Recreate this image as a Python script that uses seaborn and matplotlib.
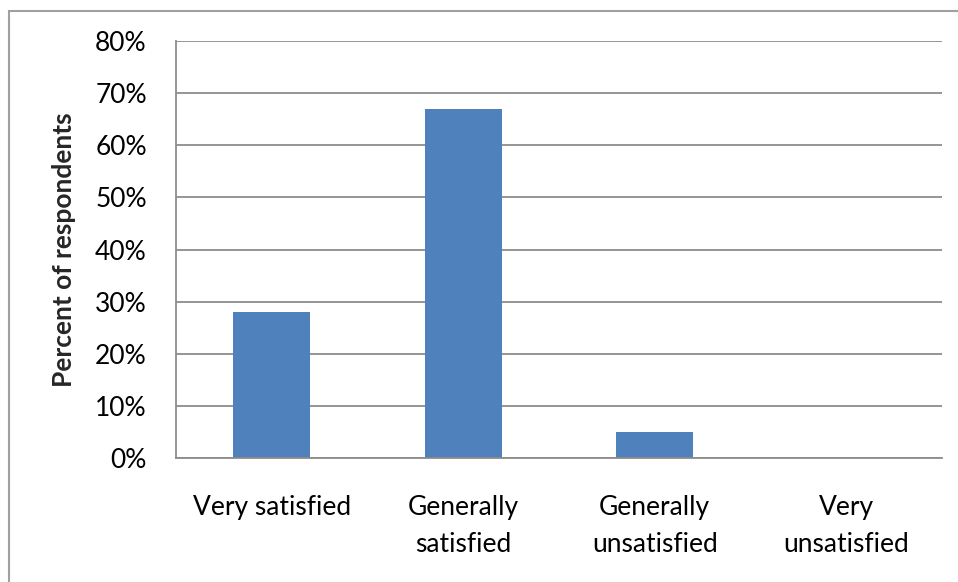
import matplotlib
matplotlib.use("Agg")
import matplotlib.pyplot as plt
import matplotlib.patches as mpatches
from matplotlib.ticker import PercentFormatter
import seaborn as sns
import pandas as pd

categories = ["Very satisfied", "Generally\nsatisfied", "Generally\nunsatisfied", "Very\nunsatisfied"]
percent = [28, 67, 5, 0]
y_ticks = [0, 10, 20, 30, 40, 50, 60, 70, 80]

sns.set_style("white")
plt.rcParams["font.family"] = ["Lato", "DejaVu Sans"]

df = pd.DataFrame({"category": categories, "percent": percent})

fig = plt.figure(figsize=(9.58, 5.82), dpi=100)
ax = fig.add_axes([176 / 958, 124 / 582, 766 / 958, 417 / 582])

sns.barplot(data=df, x="category", y="percent", color="#4F81BD",
            width=0.4, saturation=1, linewidth=0, ax=ax, zorder=3)

grid_c = "#8C8C8C"
ax.set_ylim(0, 80)
ax.set_xlim(-0.5, 3.5)
ax.set_yticks(y_ticks)
ax.yaxis.set_major_formatter(PercentFormatter(decimals=0))
ax.grid(axis="y", color=grid_c, linewidth=1.3, zorder=0)
for side in ["top", "right"]:
    ax.spines[side].set_visible(False)
for side in ["left", "bottom"]:
    ax.spines[side].set_color(grid_c)
    ax.spines[side].set_linewidth(1.3)
    ax.spines[side].set_zorder(4)
ax.tick_params(axis="both", length=0, labelsize=19, colors="#000000")
ax.tick_params(axis="y", pad=21)
ax.tick_params(axis="x", pad=27)
for lab in ax.get_xticklabels():
    lab.set_linespacing(1.55)
ax.set_xlabel("")
ax.set_ylabel("Percent of respondents", fontsize=19, fontweight="bold", labelpad=14)

# outer chart border
fig.patches.append(mpatches.Rectangle((9 / 958, -0.1), 1.1, (582 - 11) / 582 + 0.1,
                                      transform=fig.transFigure, fill=False,
                                      edgecolor="#A0A0A0", linewidth=1.5))

fig.savefig("out.png", dpi=100)
